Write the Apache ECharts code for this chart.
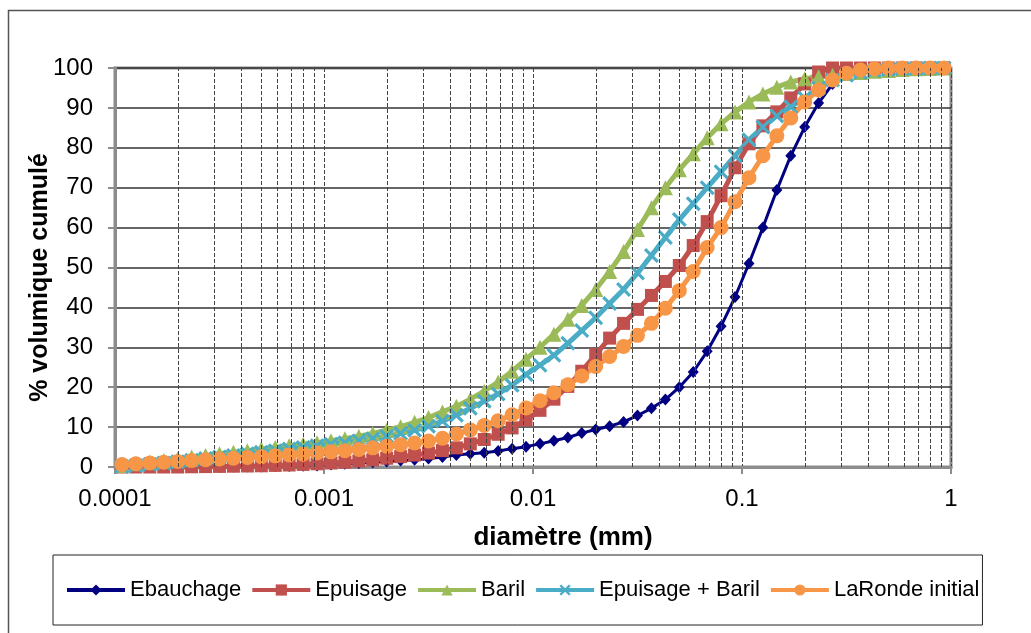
<!DOCTYPE html>
<html>
<head>
<meta charset="utf-8">
<script src="https://cdn.jsdelivr.net/npm/echarts@6/dist/echarts.min.js"></script>
<style>
  html, body { margin: 0; padding: 0; background: #fff; }
  #chart { width: 1031px; height: 633px; }
</style>
</head>
<body>
<div id="chart"></div>
<script>
// diamètres des classes (mm)
var diametres = [
  0.0001080, 0.0001259, 0.0001468, 0.0001711, 0.0001995, 0.0002326, 0.0002712, 0.0003162, 0.0003687, 0.0004299, 0.0005012, 0.0005843, 0.0006813, 0.0007943, 0.0009261,
  0.001080, 0.001259, 0.001468, 0.001711, 0.001995, 0.002326, 0.002712, 0.003162, 0.003687, 0.004299, 0.005012, 0.005843, 0.006813, 0.007943, 0.009261,
  0.01080, 0.01259, 0.01468, 0.01711, 0.01995, 0.02326, 0.02712, 0.03162, 0.03687, 0.04299, 0.05012, 0.05843, 0.06813, 0.07943, 0.09261,
  0.1080, 0.1259, 0.1468, 0.1711, 0.1995, 0.2326, 0.2712, 0.3162, 0.3687, 0.4299, 0.5012, 0.5843, 0.6813, 0.7943, 0.9261
];

// % volumique cumulé
var ebauchage = [
  0, 0, 0, 0, 0, 0, 0, 0, 0.05, 0.1, 0.15, 0.2, 0.25, 0.3, 0.4,
  0.6, 0.8, 1.0, 1.2, 1.4, 1.6, 1.8, 2.1, 2.5, 3.0, 3.3, 3.6, 4.0, 4.6, 5.1,
  5.8, 6.6, 7.4, 8.5, 9.4, 10.2, 11.3, 12.9, 14.7, 16.9, 20.0, 23.8, 29.0, 35.3, 42.6,
  51.0, 60.0, 69.4, 78.0, 85.2, 91.2, 96.0, 98.8, 99.8, 100, 100, 100, 100, 100, 100
];
var epuisage = [
  0, 0, 0, 0, 0, 0.05, 0.1, 0.15, 0.2, 0.25, 0.3, 0.4, 0.5, 0.65, 0.8,
  1.0, 1.2, 1.5, 1.8, 2.2, 2.6, 3.0, 3.5, 4.1, 4.8, 5.8, 6.9, 8.2, 9.8, 11.8,
  14.2, 17.0, 20.2, 24.0, 28.2, 32.3, 36.0, 39.5, 43.0, 46.5, 50.5, 55.5, 61.5, 68.0, 75.0,
  81.0, 85.5, 89.0, 92.5, 96.0, 99.0, 100, 100, 100, 100, 100, 100, 100, 100, 100
];
var baril = [
  0.4, 0.8, 1.2, 1.6, 2.0, 2.5, 2.9, 3.3, 3.7, 4.1, 4.5, 4.9, 5.3, 5.7, 6.1,
  6.6, 7.1, 7.7, 8.4, 9.2, 10.1, 11.2, 12.4, 13.8, 15.2, 17.0, 19.0, 21.3, 24.0, 27.0,
  30.0, 33.3, 37.0, 40.5, 44.5, 49.0, 54.0, 59.5, 65.0, 70.0, 74.5, 78.5, 82.5, 86.0, 89.0,
  91.5, 93.5, 95.2, 96.5, 97.3, 97.8, 98.2, 98.6, 98.9, 99.2, 99.4, 99.6, 99.8, 99.9, 100
];
var epuisageBaril = [
  0.1, 0.4, 0.7, 1.0, 1.3, 1.7, 2.1, 2.5, 2.9, 3.3, 3.7, 4.1, 4.5, 4.9, 5.3,
  5.7, 6.1, 6.6, 7.1, 7.7, 8.4, 9.2, 10.2, 11.5, 13.0, 14.7, 16.5, 18.3, 20.5, 23.2,
  25.5, 28.0, 31.0, 34.2, 37.4, 41.0, 44.5, 48.6, 53.0, 57.5, 62.0, 66.0, 70.0, 74.0, 78.0,
  82.0, 85.2, 88.0, 90.3, 92.5, 95.0, 97.0, 98.2, 98.9, 99.3, 99.6, 99.8, 99.9, 100, 100
];
var laRonde = [
  0.6, 0.8, 1.0, 1.2, 1.4, 1.6, 1.8, 2.0, 2.2, 2.4, 2.6, 2.8, 3.0, 3.2, 3.5,
  3.8, 4.1, 4.4, 4.8, 5.2, 5.6, 6.0, 6.5, 7.2, 8.3, 9.3, 10.4, 11.6, 13.1, 14.8,
  16.6, 18.6, 20.6, 22.8, 25.2, 27.7, 30.2, 33.0, 36.0, 39.8, 44.2, 49.0, 55.0, 60.0, 66.5,
  72.5, 78.0, 83.0, 87.5, 91.5, 94.5, 97.0, 98.7, 99.5, 99.8, 100, 100, 100, 100, 100
];

var nomsSeries = ['Ebauchage', 'Epuisage', 'Baril', 'Epuisage + Baril', 'LaRonde initial'];
var xTickLabels = ['0.0001', '0.001', '0.01', '0.1', '1'];
var decades = [0.0001, 0.001, 0.01, 0.1];

var police = 'Liberation Sans, Arial, Helvetica, sans-serif';
var croix = 'path://M0,1.5L1.5,0L5,3.5L8.5,0L10,1.5L6.5,5L10,8.5L8.5,10L5,6.5L1.5,10L0,8.5L3.5,5Z';

function paires(values) {
  return values.map(function (v, i) { return [diametres[i], v]; });
}

// lignes de quadrillage secondaires (2..9 x 10^n)
var lignesMineures = [];
decades.forEach(function (d) {
  for (var m = 2; m <= 9; m++) {
    lignesMineures.push([{ coord: [d * m, 0] }, { coord: [d * m, 100] }]);
  }
});

var chart = echarts.init(document.getElementById('chart'));

var option = {
  animation: false,
  backgroundColor: '#fff',
  graphic: [{
    type: 'rect',
    shape: { x: 8.5, y: 10.5, width: 1040, height: 640 },
    style: { fill: 'none', stroke: '#555', lineWidth: 1.5 },
    silent: true
  }],
  grid: {
    left: 115,
    right: 80,
    top: 68,
    bottom: 166,
    show: true,
    borderColor: '#8c8c8c',
    borderWidth: 3
  },
  legend: {
    data: nomsSeries,
    left: 53,
    top: 555,
    orient: 'horizontal',
    borderColor: '#222',
    borderWidth: 1,
    padding: [24, 3, 24, 12],
    itemGap: 9,
    itemWidth: 58,
    itemHeight: 14,
    lineStyle: { width: 4 },
    textStyle: { fontFamily: police, fontSize: 22, color: '#000' }
  },
  xAxis: {
    type: 'log',
    logBase: 10,
    min: 0.0001,
    max: 1,
    name: 'diamètre (mm)',
    nameLocation: 'middle',
    nameGap: 58,
    nameMoveOverlap: false,
    nameTextStyle: {
      fontFamily: police, fontSize: 26, fontWeight: 'bold', color: '#000',
      padding: [0, 0, 0, 60]
    },
    axisLine: { show: true, lineStyle: { color: '#8c8c8c', width: 3 } },
    axisTick: { show: true, length: 7, lineStyle: { color: '#8c8c8c', width: 2 } },
    axisLabel: {
      fontFamily: police, fontSize: 24, color: '#000', margin: 20,
      formatter: function (value, index) { return xTickLabels[index]; }
    },
    splitLine: { show: true, lineStyle: { color: '#444', width: 1, type: [4, 2] } }
  },
  yAxis: {
    type: 'value',
    min: 0,
    max: 100,
    interval: 10,
    name: '% volumique cumulé',
    nameLocation: 'middle',
    nameGap: 62,
    nameMoveOverlap: false,
    nameTextStyle: {
      fontFamily: police, fontSize: 25, fontWeight: 'bold', color: '#000',
      padding: [0, 20, 0, 0]
    },
    axisLine: { show: true, lineStyle: { color: '#8c8c8c', width: 3 } },
    axisTick: { show: true, length: 7, lineStyle: { color: '#8c8c8c', width: 2 } },
    axisLabel: { fontFamily: police, fontSize: 24, color: '#000', margin: 22 },
    splitLine: { show: true, lineStyle: { color: '#333', width: 1.5 } }
  },
  series: [
    {
      name: 'quadrillage',
      type: 'line',
      data: [],
      z: 1,
      silent: true,
      markLine: {
        silent: true,
        symbol: 'none',
        label: { show: false },
        lineStyle: { color: '#444', width: 1, type: [4, 2] },
        data: lignesMineures
      }
    },
    {
      name: nomsSeries[0],
      type: 'line',
      data: paires(ebauchage),
      clip: false,
      color: '#000080',
      symbol: 'diamond',
      symbolSize: [11, 12],
      lineStyle: { width: 3, color: '#000080' },
      itemStyle: { color: '#000080' }
    },
    {
      name: nomsSeries[1],
      type: 'line',
      data: paires(epuisage),
      clip: false,
      color: '#C0504D',
      symbol: 'rect',
      symbolSize: 13,
      lineStyle: { width: 5, color: '#C0504D' },
      itemStyle: { color: '#C0504D' }
    },
    {
      name: nomsSeries[2],
      type: 'line',
      data: paires(baril),
      clip: false,
      color: '#9BBB59',
      symbol: 'triangle',
      symbolSize: 15,
      lineStyle: { width: 5, color: '#9BBB59' },
      itemStyle: { color: '#9BBB59' }
    },
    {
      name: nomsSeries[3],
      type: 'line',
      data: paires(epuisageBaril),
      clip: false,
      color: '#4BACC6',
      symbol: croix,
      symbolSize: 15,
      lineStyle: { width: 5, color: '#4BACC6' },
      itemStyle: { color: '#4BACC6' }
    },
    {
      name: nomsSeries[4],
      type: 'line',
      data: paires(laRonde),
      clip: false,
      color: '#F79646',
      symbol: 'circle',
      symbolSize: 15,
      lineStyle: { width: 5, color: '#F79646' },
      itemStyle: { color: '#F79646' }
    }
  ]
};

chart.setOption(option);
</script>
</body>
</html>
